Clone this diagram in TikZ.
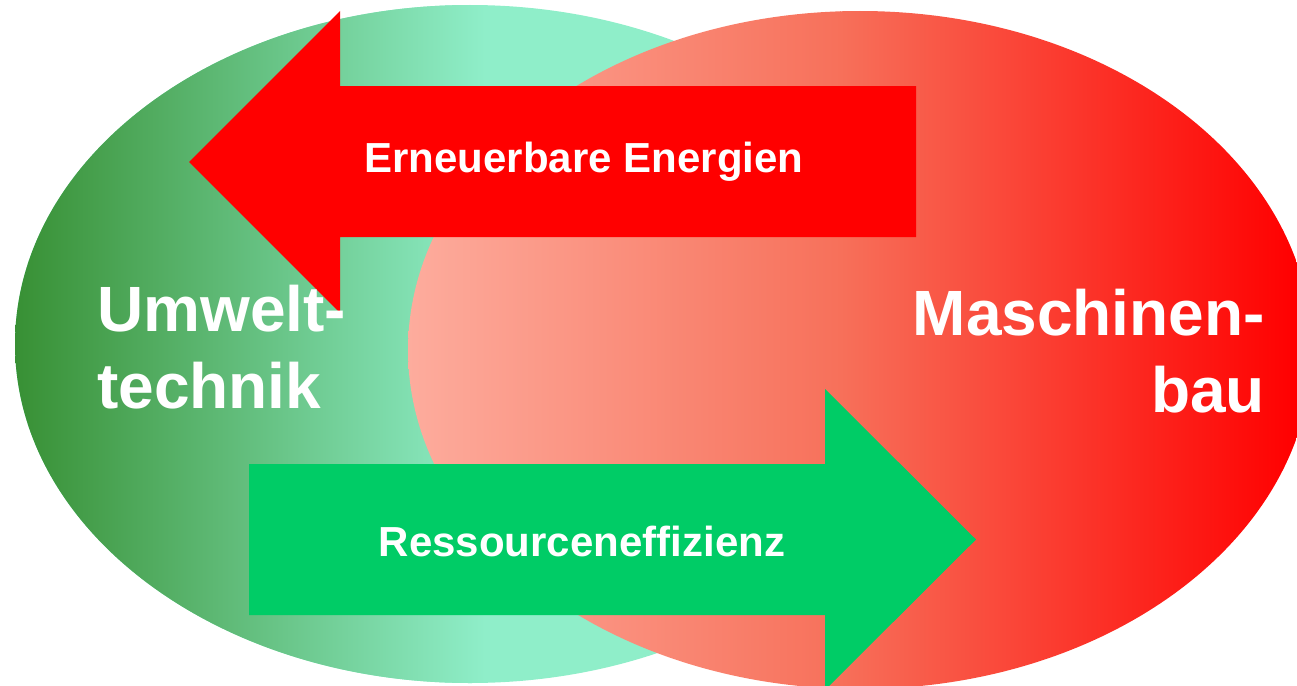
\documentclass[tikz,border=0pt]{standalone}
\usepackage{fontspec}
\setmainfont{Liberation Sans}
\definecolor{greendark}{RGB}{56,144,52}
\definecolor{greenlight}{RGB}{143,238,201}
\definecolor{redlight}{RGB}{253,172,157}
\definecolor{redmid}{RGB}{247,112,90}
\definecolor{redfull}{RGB}{255,0,0}
\definecolor{arrowgreen}{RGB}{0,204,102}
\tikzset{
  bigtxt/.style={inner sep=0pt, text=white, font=\fontsize{64}{77}\selectfont\bfseries},
  arrtxt/.style={inner sep=0pt, text=white, font=\fontsize{42}{50}\selectfont\bfseries},
}
\begin{document}
\begin{tikzpicture}[x=1pt,y=-1pt]
\useasboundingbox (0,0) rectangle (1297,685);
% green ellipse
\begin{scope}
  \clip (470,344) ellipse [x radius=455, y radius=339];
  \fill[greenlight] (0,0) rectangle (1297,685);
  \shade[left color=greendark, right color=greenlight] (15,0) rectangle (485,685);
\end{scope}
% red ellipse
\begin{scope}
  \clip (860,350) ellipse [x radius=452, y radius=339];
  \shade[left color=redlight, right color=redmid] (408,0) rectangle (841,700);
  \shade[left color=redmid, right color=redfull] (840,0) rectangle (1297,700);
  \fill[redfull] (1296,0) rectangle (1320,700);
\end{scope}
% red arrow (pointing left)
\fill[redfull] (916,86) -- (340,86) -- (340,11) -- (189,162) -- (340,313) -- (340,237) -- (916,237) -- cycle;
% green arrow (pointing right)
\fill[arrowgreen] (249,464) -- (825,464) -- (825,389) -- (976,539.5) -- (825,690) -- (825,615) -- (249,615) -- cycle;
% labels
\node[arrtxt, anchor=base] (ee) at (584,172) {Erneuerbare Energien};
\node[arrtxt, anchor=base] (re) at (582,556) {Ressourceneffizienz};
\node[bigtxt, anchor=base west] (u1) at (97,331) {Umwelt-};
\node[bigtxt, anchor=base west] (u2) at (97,408) {technik};
\node[bigtxt, anchor=base east] (m1) at (1265,335) {Maschinen-};
\node[bigtxt, anchor=base east] (m2) at (1265,412) {bau};
\end{tikzpicture}
\end{document}
